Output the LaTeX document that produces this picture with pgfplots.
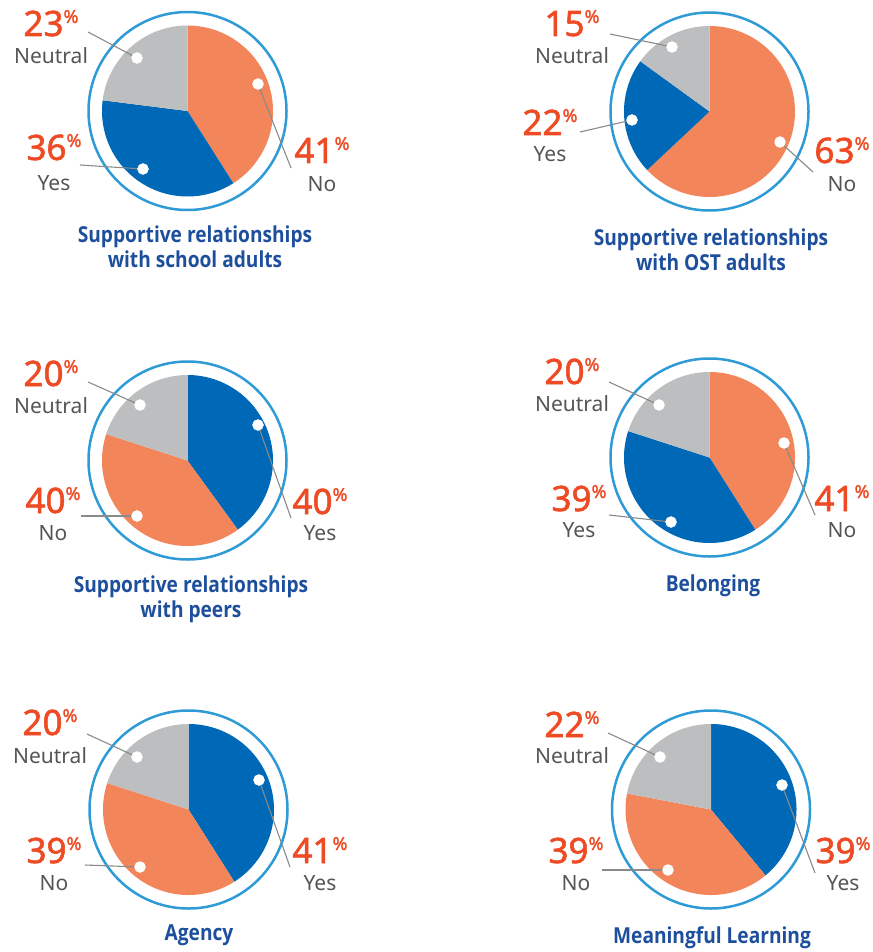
\documentclass[border=0pt]{standalone}
\usepackage{fontspec}
\setmainfont{Noto Sans}
\newfontfamily\titlefont[FakeStretch=0.87]{Open Sans}
\newfontfamily\numfont[FakeBold=1.6]{Noto Sans}
\usepackage{pgfplots}
\pgfplotsset{compat=1.18}
\definecolor{cOr}{HTML}{F3855A}
\definecolor{cBl}{HTML}{0069B7}
\definecolor{cGr}{HTML}{BCBEC0}
\definecolor{cRing}{HTML}{2E9AD6}
\definecolor{cNum}{HTML}{EE4A24}
\definecolor{cTxt}{HTML}{555555}
\definecolor{cTitle}{HTML}{1D4F9C}
\definecolor{cLine}{HTML}{8A8A8A}
% slice: cx, cy, start %, end %, colour
\newcommand{\slice}[5]{\addplot[fill=#5, draw=none, domain={#3*3.6}:{#4*3.6}, samples=90, variable=\t] ({#1+85.5*sin(\t)}, {#2-85.5*cos(\t)}) -- (axis cs:#1,#2) -- cycle;}
\newcommand{\ring}[2]{\addplot[cRing, line width=2.5pt, domain=0:360, samples=181, variable=\t] ({#1+99*sin(\t)}, {#2-99*cos(\t)});}
\newcommand{\leader}[4]{\addplot[cLine, line width=1.1pt] coordinates {(#1,#2) (#3,#4)};}
\newcommand{\lab}[5]{%
\node[anchor=base, text=cNum, inner sep=0pt] at (axis cs:#1,#2) {\numfont\fontsize{35}{35}\selectfont #4\raisebox{13pt}{\fontsize{18}{18}\selectfont\%}};
\node[anchor=base, text=cTxt, inner sep=0pt] at (axis cs:#1,#3) {\fontsize{21}{21}\selectfont #5};}
\newcommand{\ttl}[3]{\node[anchor=base, text=cTitle, inner sep=0pt] at (axis cs:#1,#2) {\titlefont\bfseries\fontsize{22}{22}\selectfont #3};}
\begin{document}
\begin{tikzpicture}
\path[use as bounding box] (0,0) rectangle (872pt,952pt);
\begin{axis}[at={(0,0)}, anchor=south west, scale only axis, width=872pt, height=952pt,
  xmin=0, xmax=872, ymin=0, ymax=952, y dir=reverse, hide axis, clip=false]
% ---- Top left: school adults (No 41, Yes 36, Neutral 23)
\slice{187.5}{111}{0}{41}{cOr}
\slice{187.5}{111}{41}{77}{cBl}
\slice{187.5}{111}{77}{100}{cGr}
\ring{187.5}{111}
% ---- Top right: OST adults (No 63, Yes 22, Neutral 15)
\slice{709.5}{111.5}{0}{63}{cOr}
\slice{709.5}{111.5}{63}{85}{cBl}
\slice{709.5}{111.5}{85}{100}{cGr}
\ring{709.5}{111.5}
% ---- Middle left: peers (Yes 40, No 40, Neutral 20)
\slice{187.5}{460.5}{0}{40}{cBl}
\slice{187.5}{460.5}{40}{80}{cOr}
\slice{187.5}{460.5}{80}{100}{cGr}
\ring{187.5}{460.5}
% ---- Middle right: belonging (No 41, Yes 39, Neutral 20)
\slice{709.5}{457.5}{0}{41}{cOr}
\slice{709.5}{457.5}{41}{80}{cBl}
\slice{709.5}{457.5}{80}{100}{cGr}
\ring{709.5}{457.5}
% ---- Bottom left: agency (Yes 41, No 39, Neutral 20)
\slice{188.5}{809.5}{0}{41}{cBl}
\slice{188.5}{809.5}{41}{80}{cOr}
\slice{188.5}{809.5}{80}{100}{cGr}
\ring{188.5}{809.5}
% ---- Bottom right: meaningful learning (Yes 39, No 39, Neutral 22)
\slice{711}{809.5}{0}{39}{cBl}
\slice{711}{809.5}{39}{78}{cOr}
\slice{711}{809.5}{78}{100}{cGr}
\ring{711}{809.5}
% ---- leader lines
\leader{88}{32}{137}{58}
\leader{80}{165}{143}{169}
\leader{258}{84}{291}{168}
\leader{610}{34}{672}{47}
\leader{580}{132}{632}{120}
\leader{780}{142}{813}{172}
\leader{88}{382}{140}{405}
\leader{258}{425}{291}{518}
\leader{81}{516}{137}{516}
\leader{609}{382}{659}{405}
\leader{784}{443}{815}{515}
\leader{609}{515}{671}{522}
\leader{87}{734}{137}{757}
\leader{259}{780}{290}{867}
\leader{85}{865}{140}{867}
\leader{608}{733}{660}{757}
\leader{782}{785}{815}{873}
\leader{602}{870}{668}{870}
% ---- dots
\addplot[only marks, mark=*, mark size=5.5pt, mark options={fill=white, draw=white}] coordinates {
(137,58) (143,169) (258,84) (672,47) (632,120) (780,142)
(140,405) (258,425) (137,516) (659,405) (784,443) (671,522)
(137,757) (259,780) (140,867) (660,757) (782,785) (668,870)};
% ---- labels
\lab{51}{36}{64}{23}{Neutral}
\lab{54}{160}{190}{36}{Yes}
\lab{322}{163}{191}{41}{No}
\lab{572}{36}{64}{15}{Neutral}
\lab{550}{135}{162}{22}{Yes}
\lab{842}{163}{191}{63}{No}
\lab{51}{386}{413}{20}{Neutral}
\lab{320}{514}{540}{40}{Yes}
\lab{53}{513}{540}{40}{No}
\lab{572}{384}{411}{20}{Neutral}
\lab{842}{511}{537}{41}{No}
\lab{579}{511}{537}{39}{Yes}
\lab{50}{735}{763}{20}{Neutral}
\lab{320}{863}{890}{41}{Yes}
\lab{54}{863}{890}{39}{No}
\lab{572}{737}{763}{22}{Neutral}
\lab{843}{863}{890}{39}{Yes}
\lab{576}{863}{890}{39}{No}
% ---- titles
\ttl{195}{242}{Supportive relationships}
\ttl{195}{267}{with school adults}
\ttl{711}{245}{Supportive relationships}
\ttl{711}{270}{with OST adults}
\ttl{191}{592}{Supportive relationships}
\ttl{191}{617}{with peers}
\ttl{713}{591}{Belonging}
\ttl{199}{940}{Agency}
\ttl{712}{943}{Meaningful Learning}
\end{axis}
\end{tikzpicture}
\end{document}
